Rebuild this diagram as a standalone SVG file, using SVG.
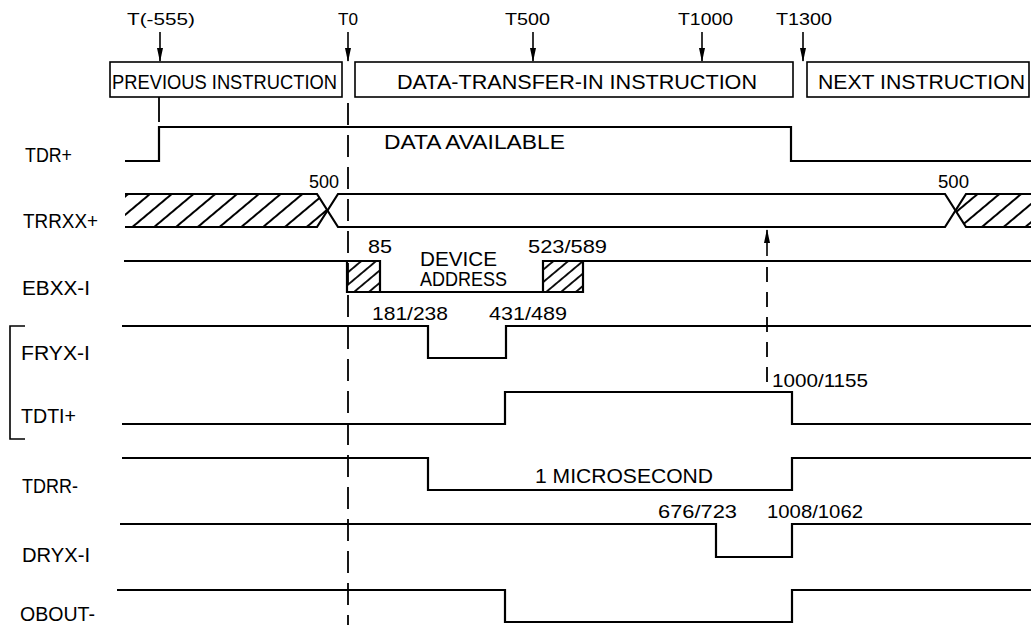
<svg xmlns="http://www.w3.org/2000/svg" width="1031" height="625" viewBox="0 0 1031 625">
<style>
text{font-family:"Liberation Sans",Arial,sans-serif;fill:#000}
.lbl{font-size:19.5px}
.top{font-size:17px}
.num{font-size:19px}
.sig{fill:none;stroke:#000;stroke-width:2.2;stroke-linejoin:miter}
.box{fill:#fff;stroke:#000;stroke-width:1.6}
.dash{fill:none;stroke:#000;stroke-width:1.8}
.arr{stroke:#000;stroke-width:1.6}
</style>
<defs>
<pattern id="hatchA" patternUnits="userSpaceOnUse" width="14" height="14" patternTransform="rotate(-40)">
<line x1="-1" y1="7" x2="15" y2="7" stroke="#000" stroke-width="2"/>
</pattern>
<pattern id="hatchB" patternUnits="userSpaceOnUse" width="9.5" height="9.5" patternTransform="rotate(-40)">
<line x1="-1" y1="4.75" x2="11" y2="4.75" stroke="#000" stroke-width="1.8"/>
</pattern>
<marker id="ah" markerWidth="14" markerHeight="8" refX="13" refY="4" orient="auto" markerUnits="userSpaceOnUse" viewBox="0 0 14 8">
<path d="M0,1 L0,7 L14,4 Z" fill="#000"/>
</marker>
</defs>

<g id="time-labels">
<text class="top" x="127" y="25" textLength="68" lengthAdjust="spacingAndGlyphs">T(-555)</text>
<text class="top" x="338" y="25" textLength="20" lengthAdjust="spacingAndGlyphs">T0</text>
<text class="top" x="505" y="25" textLength="45" lengthAdjust="spacingAndGlyphs">T500</text>
<text class="top" x="678" y="25" textLength="55" lengthAdjust="spacingAndGlyphs">T1000</text>
<text class="top" x="776" y="25" textLength="56" lengthAdjust="spacingAndGlyphs">T1300</text>
</g>

<g id="instr-previous">
<rect class="box" x="110" y="62" width="232" height="35"/>
<text class="lbl" x="112" y="89" textLength="225" lengthAdjust="spacingAndGlyphs">PREVIOUS INSTRUCTION</text>
</g>
<g id="instr-dti">
<rect class="box" x="355" y="62" width="438" height="35"/>
<text class="lbl" x="397" y="89" textLength="360" lengthAdjust="spacingAndGlyphs">DATA-TRANSFER-IN  INSTRUCTION</text>
</g>
<g id="instr-next">
<rect class="box" x="807" y="62" width="222" height="35"/>
<text class="lbl" x="818" y="89" textLength="207" lengthAdjust="spacingAndGlyphs">NEXT INSTRUCTION</text>
</g>

<g id="signal-labels">
<text class="lbl" x="25" y="162" textLength="47" lengthAdjust="spacingAndGlyphs">TDR+</text>
<text class="lbl" x="23" y="228" textLength="75" lengthAdjust="spacingAndGlyphs">TRRXX+</text>
<text class="lbl" x="22" y="295" textLength="68" lengthAdjust="spacingAndGlyphs">EBXX-I</text>
<text class="lbl" x="21" y="360" textLength="69" lengthAdjust="spacingAndGlyphs">FRYX-I</text>
<text class="lbl" x="21" y="423" textLength="55" lengthAdjust="spacingAndGlyphs">TDTI+</text>
<text class="lbl" x="22" y="493" textLength="56" lengthAdjust="spacingAndGlyphs">TDRR-</text>
<text class="lbl" x="22" y="562" textLength="68" lengthAdjust="spacingAndGlyphs">DRYX-I</text>
<text class="lbl" x="20" y="621" textLength="75" lengthAdjust="spacingAndGlyphs">OBOUT-</text>
<path d="M25,326 H10 V439 H25" fill="none" stroke="#000" stroke-width="1.6"/>
</g>

<g id="TDR">
<path class="sig" d="M125,161 H159 V127 H791 V161 H1031"/>
<text class="lbl" x="384" y="149" textLength="181" lengthAdjust="spacingAndGlyphs">DATA  AVAILABLE</text>
</g>

<g id="TRRXX">
<polygon points="125,194 317,194 327.5,210.5 317,227 125,227" fill="url(#hatchA)"/>
<polygon points="1031,194 966,194 955.5,210.5 966,227 1031,227" fill="url(#hatchA)"/>
<path class="sig" d="M125,194 H317 L338,227 H945 L966,194 H1031"/>
<path class="sig" d="M125,227 H317 L338,194 H945 L966,227 H1031"/>
<text class="num" x="309" y="188" textLength="30" lengthAdjust="spacingAndGlyphs">500</text>
<text class="num" x="938" y="188" textLength="31" lengthAdjust="spacingAndGlyphs">500</text>
</g>

<g id="EBXX">
<rect x="347" y="261" width="33" height="31" fill="url(#hatchB)"/>
<rect x="543" y="261" width="40" height="31" fill="url(#hatchB)"/>
<path class="sig" d="M124,261 H380 V292"/>
<path class="sig" d="M347,261 V292 H583 V261 H1031"/>
<path class="sig" d="M543,292 V261 H583"/>
<text class="num" x="368" y="253" textLength="24" lengthAdjust="spacingAndGlyphs">85</text>
<text class="lbl" x="420" y="266" textLength="77" lengthAdjust="spacingAndGlyphs">DEVICE</text>
<text class="lbl" x="420" y="286" textLength="87" lengthAdjust="spacingAndGlyphs">ADDRESS</text>
<text class="num" x="528" y="253" textLength="79" lengthAdjust="spacingAndGlyphs">523/589</text>
</g>

<g id="FRYX">
<path class="sig" d="M122,326 H428 V358 H506 V326 H1031"/>
<text class="num" x="372" y="320" textLength="76" lengthAdjust="spacingAndGlyphs">181/238</text>
<text class="num" x="489" y="320" textLength="78" lengthAdjust="spacingAndGlyphs">431/489</text>
</g>

<g id="TDTI">
<path class="sig" d="M122,424 H505 V392 H792 V424 H1031"/>
<text class="num" x="772" y="387" textLength="96" lengthAdjust="spacingAndGlyphs">1000/1155</text>
</g>

<g id="TDRR">
<path class="sig" d="M122,458 H428 V490 H792 V458 H1031"/>
<text class="lbl" x="535" y="483" textLength="178" lengthAdjust="spacingAndGlyphs">1 MICROSECOND</text>
</g>

<g id="DRYX">
<path class="sig" d="M120,524 H716 V557 H792 V524 H1031"/>
<text class="num" x="658" y="518" textLength="79" lengthAdjust="spacingAndGlyphs">676/723</text>
<text class="num" x="767" y="518" textLength="96" lengthAdjust="spacingAndGlyphs">1008/1062</text>
</g>

<g id="OBOUT">
<path class="sig" d="M117,590 H505 V622 H792 V590 H1031"/>
</g>

<g id="connectors">
<line class="arr" x1="160" y1="32" x2="160" y2="61" marker-end="url(#ah)"/>
<line class="arr" x1="348" y1="32" x2="348" y2="61" marker-end="url(#ah)"/>
<line class="arr" x1="533" y1="32" x2="533" y2="61" marker-end="url(#ah)"/>
<line class="arr" x1="702" y1="32" x2="702" y2="61" marker-end="url(#ah)"/>
<line class="arr" x1="803" y1="32" x2="803" y2="61" marker-end="url(#ah)"/>
<line x1="159" y1="97" x2="159" y2="122" stroke="#000" stroke-width="1.8"/>
<line class="dash" x1="348" y1="103" x2="348" y2="625" stroke-dasharray="22 10"/>
<line class="dash" x1="767" y1="267" x2="767" y2="387" stroke-dasharray="15 10"/>
<line class="arr" x1="767" y1="256" x2="767" y2="230" marker-end="url(#ah)"/>
</g>
</svg>
